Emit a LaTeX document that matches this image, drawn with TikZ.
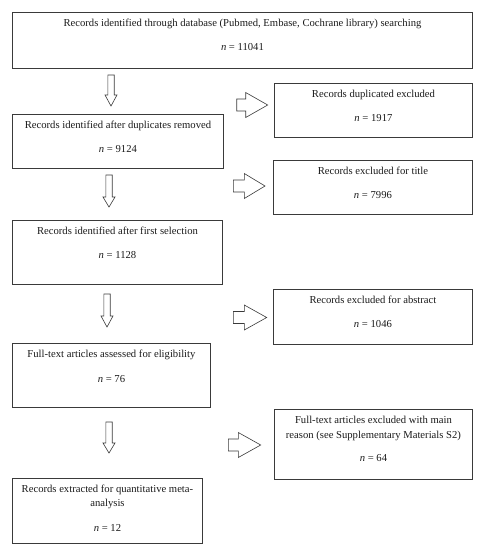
\documentclass[tikz,border=0pt]{standalone}
\usepackage{fontspec}
\setmainfont{Liberation Serif}
\usetikzlibrary{calc}
\definecolor{linegray}{HTML}{3A3A3A}
\definecolor{txtgray}{HTML}{1A1A1A}
\newcommand{\DArrow}[5]{% name, cx, top, headstart, tip
  \draw[blockarrow] (#2-3.2,#3) -- (#2+3.2,#3) -- (#2+3.2,#4) -- (#2+6,#4) -- (#2,#5) -- (#2-6,#4) -- (#2-3.2,#4) -- cycle;
  \coordinate (#1) at (#2,#5);}
\newcommand{\RArrow}[5]{% name, left, cy, headstart, tip
  \draw[blockarrow] (#2,#3-6) -- (#4,#3-6) -- (#4,#3-12.5) -- (#5,#3) -- (#4,#3+12.5) -- (#4,#3+6) -- (#2,#3+6) -- cycle;
  \coordinate (#1) at (#5,#3);}
\begin{document}
\begin{tikzpicture}[x=1pt,y=-1pt,
  box/.style={draw=linegray, line width=0.9pt, inner sep=0pt},
  lbl/.style={text=txtgray, font=\fontsize{10.65}{14.3}\selectfont, inner sep=0pt, anchor=base},
  blockarrow/.style={draw=linegray, line width=0.6pt, line join=miter, fill=white}]
\useasboundingbox (0,0) rectangle (483,550);
\renewcommand{\arraystretch}{1.0}
% boxes
\node[box, minimum width=460pt, minimum height=56pt, anchor=north west] (b1) at (12,12) {};
\node[box, minimum width=198pt, minimum height=54pt, anchor=north west] (bdup) at (274,83) {};
\node[box, minimum width=211pt, minimum height=54pt, anchor=north west] (b2) at (12,114) {};
\node[box, minimum width=199pt, minimum height=54pt, anchor=north west] (btitle) at (273,160) {};
\node[box, minimum width=210pt, minimum height=64pt, anchor=north west] (b3) at (12,220) {};
\node[box, minimum width=199pt, minimum height=55pt, anchor=north west] (babs) at (273,289) {};
\node[box, minimum width=198pt, minimum height=64pt, anchor=north west] (b4) at (12,343) {};
\node[box, minimum width=198pt, minimum height=70pt, anchor=north west] (bft) at (274,409) {};
\node[box, minimum width=190pt, minimum height=65pt, anchor=north west] (b5) at (12,478) {};
% texts
\node[lbl] (t1) at ($(b1.north)+(0,14.7)$) {Records identified through database (Pubmed, Embase, Cochrane library) searching};
\node[lbl] (n1) at ($(b1.north)+(0,38.7)$) {\textit{n} = 11041};
\node[lbl] (tdup) at ($(bdup.north)+(0,14.7)$) {Records duplicated excluded};
\node[lbl] (ndup) at ($(bdup.north)+(0,38.7)$) {\textit{n} = 1917};
\node[lbl] (t2) at ($(b2.north)+(0,14.7)$) {Records identified after duplicates removed};
\node[lbl] (n2) at ($(b2.north)+(0,38.7)$) {\textit{n} = 9124};
\node[lbl] (ttitle) at ($(btitle.north)+(0,14.7)$) {Records excluded for title};
\node[lbl] (ntitle) at ($(btitle.north)+(0,38.7)$) {\textit{n} = 7996};
\node[lbl] (t3) at ($(b3.north)+(0,14.7)$) {Records identified after first selection};
\node[lbl] (n3) at ($(b3.north)+(0,38.7)$) {\textit{n} = 1128};
\node[lbl] (tabs) at ($(babs.north)+(0,14.7)$) {Records excluded for abstract};
\node[lbl] (nabs) at ($(babs.north)+(0,38.7)$) {\textit{n} = 1046};
\node[lbl] (t4) at ($(b4.north)+(0,14.7)$) {Full-text articles assessed for eligibility};
\node[lbl] (n4) at ($(b4.north)+(0,39.7)$) {\textit{n} = 76};
\node[lbl] (tft) at ($(bft.north)+(0,14.7)$) {\begin{tabular}[t]{@{}c@{}}Full-text articles excluded with main\\ reason (see Supplementary Materials S2)\end{tabular}};
\node[lbl] (nft) at ($(bft.north)+(0,52.4)$) {\textit{n} = 64};
\node[lbl] (t5) at ($(b5.north)+(0,14)$) {\begin{tabular}[t]{@{}c@{}}Records extracted for quantitative meta-\\ analysis\end{tabular}};
\node[lbl] (n5) at ($(b5.north)+(0,53.4)$) {\textit{n} = 12};
% block arrows
\DArrow{a1}{111}{75}{95}{106}
\DArrow{a2}{109}{175}{197}{207}
\DArrow{a3}{107}{294}{316}{327}
\DArrow{a4}{109}{422}{443}{453}
\RArrow{r1}{236.7}{105}{245.7}{267.7}
\RArrow{r2}{233.3}{186}{244.3}{265}
\RArrow{r3}{233.3}{317.5}{244.3}{266.7}
\RArrow{r4}{228.3}{445}{238.3}{260.7}
\end{tikzpicture}
\end{document}
